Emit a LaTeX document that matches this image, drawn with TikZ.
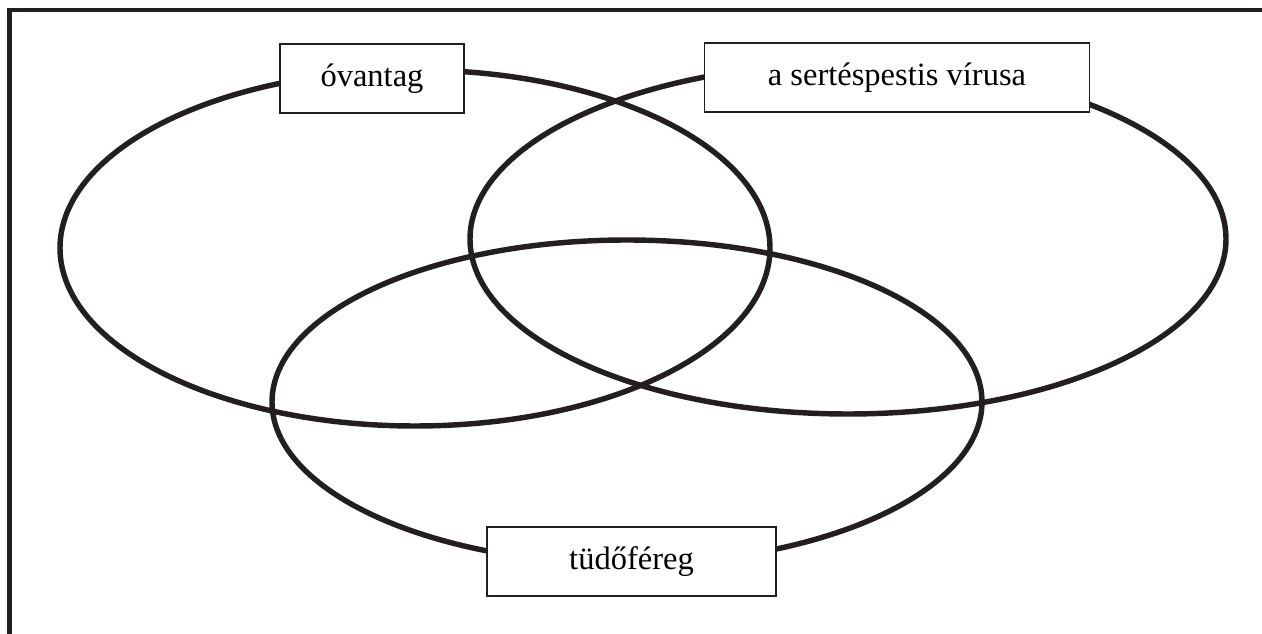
\documentclass[tikz,border=0pt]{standalone}
\usepackage{fontspec}
\setmainfont{Liberation Serif}
\definecolor{ink}{HTML}{231F20}

\tikzset{
  ring/.style={draw=ink, line width=3.1pt},
  labelbox/.style={draw=ink, line width=1pt, fill=white, inner sep=0pt,
    minimum height=1.38cm, font=\fontsize{18.5}{22}\selectfont}
}

\begin{document}
\begin{tikzpicture}[x=0.02cm, y=-0.02cm]

\useasboundingbox (0,0) rectangle (1262,634);

% frame, left and top only
\draw[ink, line width=2.8pt] (9.5,634) to (9.5,10) to (1262,10);

% the three sets
\draw[ring] (415,248) ellipse [x radius=355, y radius=178];
\draw[ring] (848,239) ellipse [x radius=378, y radius=175];
\draw[ring] (627,402) ellipse [x radius=355, y radius=162];

% labels
\node[labelbox, minimum width=3.68cm] (ovantag) at (372,78.5) {óvantag};
\node[labelbox, minimum width=7.7cm] (virus) at (897,77.5) {a sertéspestis vírusa};
\node[labelbox, minimum width=5.78cm] (fereg) at (631.5,561.5) {tüdőféreg};

\end{tikzpicture}
\end{document}
